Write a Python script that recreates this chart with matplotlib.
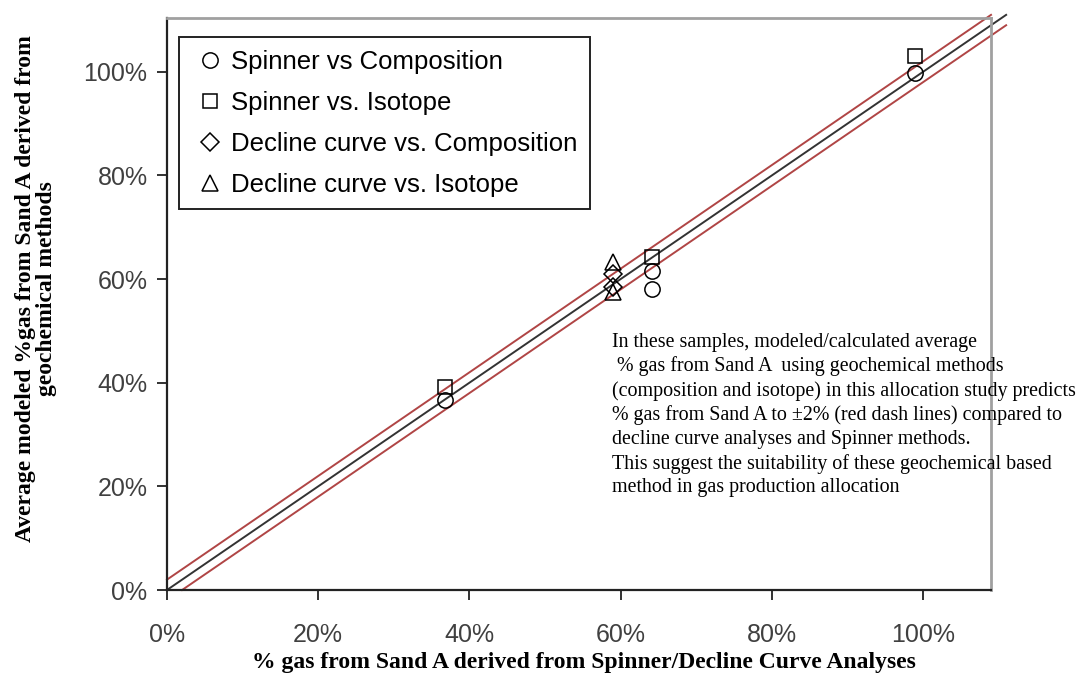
import numpy as np
import matplotlib
matplotlib.use("Agg")
import matplotlib.pyplot as plt
from matplotlib.ticker import PercentFormatter

# data (fractions)
spin_comp_x = [0.368, 0.642, 0.642, 0.99]
spin_comp_y = [0.367, 0.615, 0.580, 0.998]
spin_iso_x = [0.368, 0.642, 0.99]
spin_iso_y = [0.392, 0.642, 1.030]
decl_comp_x = [0.59, 0.59]
decl_comp_y = [0.610, 0.585]
decl_iso_x = [0.59, 0.59]
decl_iso_y = [0.633, 0.576]

ticks = [0, 0.2, 0.4, 0.6, 0.8, 1.0]
tolerance = 0.02

note = ("In these samples, modeled/calculated average\n"
        " % gas from Sand A  using geochemical methods\n"
        "(composition and isotope) in this allocation study predicts\n"
        "% gas from Sand A to \u00b12% (red dash lines) compared to\n"
        "decline curve analyses and Spinner methods.\n"
        "This suggest the suitability of these geochemical based\n"
        "method in gas production allocation")

fig = plt.figure(figsize=(10.87, 6.81), dpi=100)
ax = fig.add_axes([0.1536, 0.1336, 0.9117 - 0.1536, 0.9736 - 0.1336])
ax.set_xlim(0, 1.09)
ax.set_ylim(0, 1.104)

# 1:1 line and +-2% band, running a bit past the frame
red = '#b04545'
ax.plot([0, 1.11], [0, 1.11], color='#333333', lw=1.4, clip_on=False, zorder=2)
ax.plot([0, 1.09], [tolerance, 1.09 + tolerance], color=red, lw=1.4, clip_on=False, zorder=2)
ax.plot([tolerance, 1.11], [0, 1.11 - tolerance], color=red, lw=1.4, clip_on=False, zorder=2)

mk = dict(linestyle='none', mfc='none', mec='black', mew=1.1, zorder=3)
ax.plot(spin_comp_x, spin_comp_y, 'o', ms=11, label='Spinner vs Composition', **mk)
ax.plot(spin_iso_x, spin_iso_y, 's', ms=10, label='Spinner vs. Isotope', **mk)
ax.plot(decl_comp_x, decl_comp_y, 'D', ms=9, label='Decline curve vs. Composition', **mk)
ax.plot(decl_iso_x, decl_iso_y, '^', ms=12, label='Decline curve vs. Isotope', **mk)

ax.set_xticks(ticks)
ax.set_yticks(ticks)
ax.xaxis.set_major_formatter(PercentFormatter(1.0, decimals=0))
ax.yaxis.set_major_formatter(PercentFormatter(1.0, decimals=0))
ax.tick_params(direction='out', length=7, width=1.3, color='#222222',
               labelsize=18, labelcolor='#404040')
ax.tick_params(axis='x', pad=17)
ax.tick_params(axis='y', pad=7)
for lab in ax.get_xticklabels() + ax.get_yticklabels():
    lab.set_family('Liberation Sans')

for s in ['left', 'bottom']:
    ax.spines[s].set_color('#222222')
    ax.spines[s].set_linewidth(1.6)
for s in ['top', 'right']:
    ax.spines[s].set_color('#a0a0a0')
    ax.spines[s].set_linewidth(2)

ax.set_xlabel('% gas from Sand A derived from Spinner/Decline Curve Analyses',
              family='Liberation Serif', fontweight='bold', fontsize=17)
ax.xaxis.set_label_coords(0.506, -0.108)
ax.set_ylabel('Average modeled %gas from Sand A derived from\ngeochemical methods',
              family='Liberation Serif', fontweight='bold', fontsize=17,
              linespacing=1.05)
ax.yaxis.set_label_coords(-0.133, 0.527)

leg = ax.legend(loc='upper left', bbox_to_anchor=(0.0146, 0.967), borderaxespad=0,
                frameon=True, fancybox=False, edgecolor='#222222', framealpha=1,
                handlelength=1.4, handletextpad=0.12, borderpad=0.5,
                labelspacing=0.66, prop={'family': 'Liberation Sans', 'size': 18.5})
leg.get_frame().set_linewidth(1.4)

ax.text(0.540, 0.450, note, transform=ax.transAxes, ha='left', va='top',
        family='Liberation Serif', fontsize=14.4, linespacing=1.32, clip_on=False)

fig.savefig('out.png', dpi=100)
